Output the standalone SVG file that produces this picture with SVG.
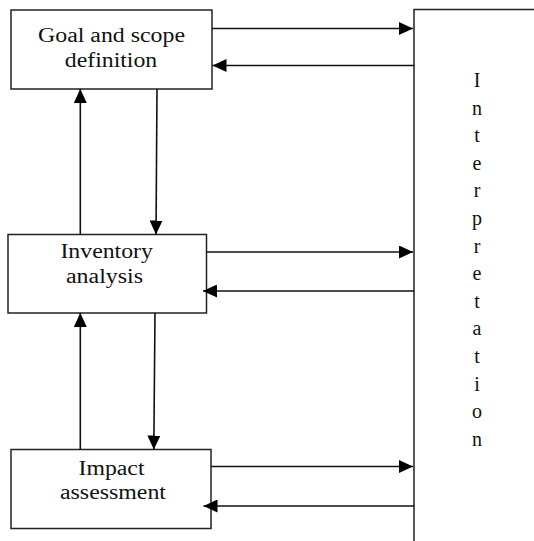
<svg xmlns="http://www.w3.org/2000/svg" width="534" height="541" viewBox="0 0 534 541">
<style>
.box{fill:#fff;stroke:#222;stroke-width:1.5}
.c{stroke:#111;stroke-width:1.6;fill:none;marker-end:url(#ah)}
.t{font-family:'Liberation Serif','Times New Roman','DejaVu Serif',serif;font-size:20px;fill:#111}
.m{text-anchor:middle}
</style>
<defs>
<marker id="ah" markerUnits="userSpaceOnUse" markerWidth="15" markerHeight="13" refX="14" refY="6.5" orient="auto">
<path d="M0,0 L14,6.5 L0,13 Z" fill="#000"/>
</marker>
</defs>
<g id="interpretation">
<rect class="box" x="414" y="9.5" width="130" height="540"/>
<g class="t m" font-family="Liberation Serif, DejaVu Serif, serif">
<text x="477" y="87">I</text>
<text x="477" y="114.6">n</text>
<text x="477" y="142.2">t</text>
<text x="477" y="169.8">e</text>
<text x="477" y="197.4">r</text>
<text x="477" y="225">p</text>
<text x="477" y="252.6">r</text>
<text x="477" y="280.2">e</text>
<text x="477" y="307.8">t</text>
<text x="477" y="335.4">a</text>
<text x="477" y="363">t</text>
<text x="477" y="390.6">i</text>
<text x="477" y="418.2">o</text>
<text x="477" y="445.8">n</text>
</g>
</g>
<g id="goal">
<rect class="box" x="11" y="10" width="201" height="79"/>
<text class="t m" x="111.5" y="42" textLength="147" lengthAdjust="spacingAndGlyphs">Goal and scope</text>
<text class="t m" x="111" y="67" textLength="92.5" lengthAdjust="spacingAndGlyphs">definition</text>
</g>
<g id="inventory">
<rect class="box" x="8" y="234.5" width="198.5" height="78.5"/>
<text class="t m" x="106.7" y="258" textLength="92.5" lengthAdjust="spacingAndGlyphs">Inventory</text>
<text class="t m" x="104.5" y="283" textLength="77" lengthAdjust="spacingAndGlyphs">analysis</text>
</g>
<g id="impact">
<rect class="box" x="11" y="449.5" width="200" height="79"/>
<text class="t m" x="111.5" y="475" textLength="66" lengthAdjust="spacingAndGlyphs">Impact</text>
<text class="t m" x="113" y="499" textLength="106" lengthAdjust="spacingAndGlyphs">assessment</text>
</g>
<g id="connectors">
<line class="c" x1="212" y1="28.5" x2="413" y2="28.5"/>
<line class="c" x1="414" y1="65.5" x2="212.5" y2="65.5"/>
<line class="c" x1="206.5" y1="252" x2="413" y2="252"/>
<line class="c" x1="414" y1="291" x2="203" y2="291"/>
<line class="c" x1="211" y1="466.5" x2="413" y2="466.5"/>
<line class="c" x1="414" y1="506" x2="203.5" y2="506"/>
<line class="c" x1="80.3" y1="234.5" x2="80.3" y2="89"/>
<line class="c" x1="157" y1="89" x2="156" y2="234.5"/>
<line class="c" x1="80.3" y1="449.5" x2="80.3" y2="313"/>
<line class="c" x1="155" y1="313" x2="153.8" y2="449.5"/>
</g>
</svg>
